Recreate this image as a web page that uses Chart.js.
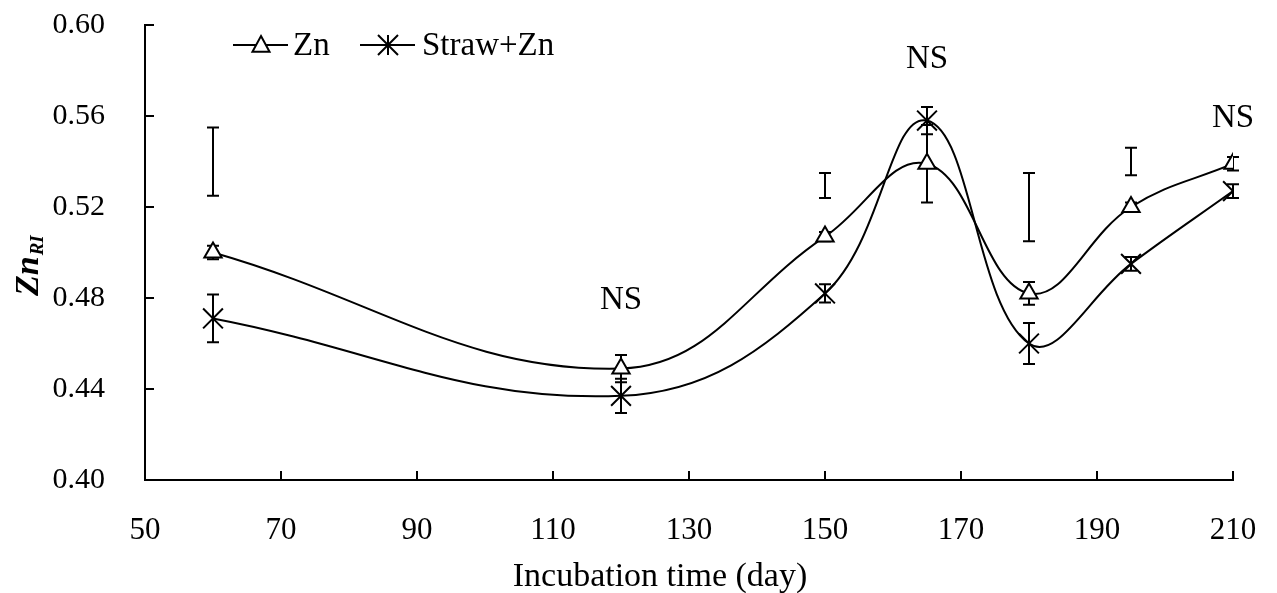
<!DOCTYPE html>
<html>
<head>
<meta charset="utf-8">
<script src="https://cdn.jsdelivr.net/npm/chart.js@4/dist/chart.umd.min.js"></script>
<style>
  body { margin: 0; background: #fff; }
  #wrap { width: 1277px; height: 593px; position: relative; }
</style>
</head>
<body>
<div id="wrap"><canvas id="c"></canvas></div>
<script>
// Incubation days and Zn_RI values.
const days = [60, 120, 150, 165, 180, 195, 210];
const znVals = [0.500, 0.449, 0.507, 0.539, 0.482, 0.520, 0.539];
const znErr = [0.003, 0.006, 0.002, 0.017, 0.005, 0.002, 0.003];
const strawVals = [0.471, 0.437, 0.482, 0.558, 0.460, 0.495, 0.527];
const strawErr = [0.0105, 0.0075, 0.004, 0.006, 0.009, 0.003, 0.003];

// Free-standing LSD bars.
const lsdDays = [60, 150, 180, 195];
const lsdLow = [0.525, 0.524, 0.505, 0.534];
const lsdHigh = [0.555, 0.535, 0.535, 0.546];

// "NS" annotations.
const nsDays = [120, 165, 210];
const nsLevel = [0.479, 0.585, 0.559];

const xTicks = [50, 70, 90, 110, 130, 150, 170, 190, 210];
const yTicks = [0.40, 0.44, 0.48, 0.52, 0.56, 0.60];

const FONT = "'Liberation Serif', 'Times New Roman', serif";

function drawBar(ctx, x, y1, y2, cap) {
  ctx.beginPath();
  ctx.moveTo(x, y1); ctx.lineTo(x, y2);
  ctx.moveTo(x - cap, y1); ctx.lineTo(x + cap, y1);
  ctx.moveTo(x - cap, y2); ctx.lineTo(x + cap, y2);
  ctx.stroke();
}

// Error bars go under the markers.
const errorBars = {
  id: 'errorBars',
  beforeDatasetsDraw(chart) {
    const { ctx, scales: { x, y } } = chart;
    ctx.save();
    ctx.strokeStyle = '#000';
    ctx.lineWidth = 2;
    [[znVals, znErr], [strawVals, strawErr]].forEach(([vals, errs]) => {
      vals.forEach((v, i) => {
        drawBar(ctx, x.getPixelForValue(days[i]), y.getPixelForValue(v + errs[i]), y.getPixelForValue(v - errs[i]), 6);
      });
    });
    lsdDays.forEach((d, i) => {
      drawBar(ctx, x.getPixelForValue(d), y.getPixelForValue(lsdHigh[i]), y.getPixelForValue(lsdLow[i]), 6);
    });
    ctx.restore();
  }
};

const decorations = {
  id: 'decorations',
  afterDraw(chart) {
    const { ctx, chartArea: a, scales: { x, y } } = chart;
    ctx.save();
    ctx.strokeStyle = '#000';
    ctx.fillStyle = '#000';
    ctx.lineWidth = 2;
    // Inward tick marks.
    ctx.beginPath();
    xTicks.forEach(t => {
      const px = x.getPixelForValue(t);
      ctx.moveTo(px, a.bottom); ctx.lineTo(px, a.bottom - 9);
    });
    yTicks.forEach(t => {
      const py = y.getPixelForValue(t);
      ctx.moveTo(a.left, py); ctx.lineTo(a.left + 9, py);
    });
    ctx.stroke();

    // NS labels.
    ctx.font = '33px ' + FONT;
    ctx.textAlign = 'center';
    ctx.textBaseline = 'middle';
    nsDays.forEach((d, i) => ctx.fillText('NS', x.getPixelForValue(d), y.getPixelForValue(nsLevel[i])));

    // X axis title.
    ctx.font = '34px ' + FONT;
    ctx.fillText('Incubation time (day)', 660, 577);

    // Y axis title: Zn with subscript RI.
    ctx.save();
    ctx.translate(38, 296);
    ctx.rotate(-Math.PI / 2);
    ctx.textAlign = 'left';
    ctx.textBaseline = 'alphabetic';
    ctx.font = 'italic bold 34px ' + FONT;
    ctx.fillText('Zn', 0, 0);
    const w = ctx.measureText('Zn').width;
    ctx.font = 'italic bold 19px ' + FONT;
    ctx.fillText('RI', w + 1, 5);
    ctx.restore();

    // Legend.
    const ly = 45;
    ctx.beginPath();
    ctx.moveTo(233, ly); ctx.lineTo(288, ly);
    ctx.moveTo(360, ly); ctx.lineTo(415, ly);
    ctx.stroke();
    // triangle
    const tx = 261, r = 9;
    ctx.beginPath();
    ctx.moveTo(tx, ly - r);
    ctx.lineTo(tx + r * 0.95, ly + r * 0.75);
    ctx.lineTo(tx - r * 0.95, ly + r * 0.75);
    ctx.closePath();
    ctx.fillStyle = '#fff';
    ctx.fill();
    ctx.stroke();
    // asterisk
    const sx = 388, s = 10;
    ctx.beginPath();
    ctx.moveTo(sx - s, ly - s); ctx.lineTo(sx + s, ly + s);
    ctx.moveTo(sx + s, ly - s); ctx.lineTo(sx - s, ly + s);
    ctx.moveTo(sx, ly - s); ctx.lineTo(sx, ly + s);
    ctx.stroke();
    ctx.fillStyle = '#000';
    ctx.font = '33px ' + FONT;
    ctx.textAlign = 'left';
    ctx.textBaseline = 'middle';
    ctx.fillText('Zn', 293, ly + 1);
    ctx.fillText('Straw+Zn', 422, ly + 1);
    ctx.restore();
  }
};

new Chart(document.getElementById('c'), {
  type: 'line',
  data: {
    datasets: [
      {
        label: 'Zn',
        data: days.map((d, i) => ({ x: d, y: znVals[i] })),
        borderColor: '#000',
        borderWidth: 2,
        tension: 0.4,
        pointStyle: 'triangle',
        pointRadius: 10,
        pointBorderWidth: 2,
        pointBackgroundColor: '#fff',
        pointBorderColor: '#000'
      },
      {
        label: 'Straw+Zn',
        data: days.map((d, i) => ({ x: d, y: strawVals[i] })),
        borderColor: '#000',
        borderWidth: 2,
        tension: 0.4,
        pointStyle: 'crossRot',
        pointRadius: 14,
        pointBorderWidth: 2,
        pointBorderColor: '#000'
      }
    ]
  },
  options: {
    responsive: true,
    maintainAspectRatio: false,
    animation: false,
    layout: { padding: { left: 0, top: 25, right: 44, bottom: 0 } },
    plugins: { legend: { display: false }, tooltip: { enabled: false } },
    scales: {
      x: {
        type: 'linear',
        min: 50,
        max: 210,
        afterBuildTicks: s => { s.ticks = xTicks.map(v => ({ value: v })); },
        afterFit: s => { s.height = 113; s.paddingLeft = 0; s.paddingRight = 0; },
        grid: { display: false, drawTicks: false },
        border: { display: true, color: '#000', width: 2 },
        ticks: { color: '#000', font: { family: FONT, size: 31 }, padding: 32, maxRotation: 0 }
      },
      y: {
        type: 'linear',
        min: 0.40,
        max: 0.60,
        afterBuildTicks: s => { s.ticks = yTicks.map(v => ({ value: v })); },
        afterFit: s => { s.width = 145; s.paddingTop = 0; s.paddingBottom = 0; },
        grid: { display: false, drawTicks: false },
        border: { display: true, color: '#000', width: 2 },
        ticks: { color: '#000', font: { family: FONT, size: 30 }, padding: 40, callback: v => v.toFixed(2) }
      }
    }
  },
  plugins: [errorBars, decorations]
});
</script>
</body>
</html>
